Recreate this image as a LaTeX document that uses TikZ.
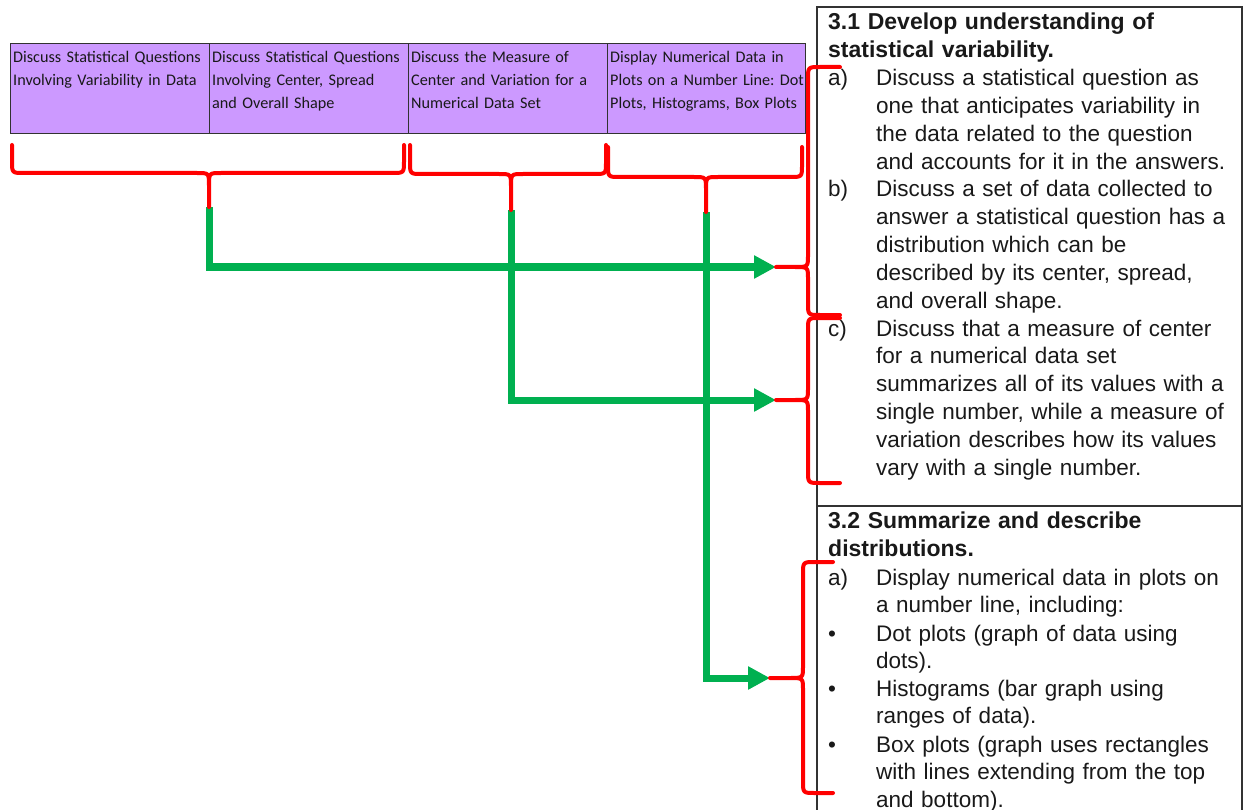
\documentclass[tikz,border=0pt]{standalone}
\usepackage{fontspec}
\setmainfont{Liberation Sans}
\newfontfamily\calib{Carlito}
\usetikzlibrary{arrows.meta}
\definecolor{purp}{RGB}{204,153,255}
\definecolor{grn}{RGB}{0,176,80}
\definecolor{rd}{RGB}{255,0,0}
\definecolor{ink}{RGB}{25,25,25}
\definecolor{frame}{RGB}{50,50,50}
\frenchspacing
% horizontal brace pointing down: x1 x2 ytop yh xm ytip name
\newcommand{\bracedown}[7]{%
  \draw[bracestyle] (#1,#3) -- (#1,#4-12) .. controls (#1,#4) .. (#1+12,#4) -- (#5-12,#4) .. controls (#5,#4) .. (#5,#4+13) -- (#5,#6)
     -- (#5,#4+13) .. controls (#5,#4) .. (#5+12,#4) -- (#2-12,#4) .. controls (#2,#4) .. (#2,#4-12) -- (#2,#3);
  \coordinate (#7) at (#5,#6);
}
% vertical brace pointing left: xe xv yt yb ym xt name
\newcommand{\braceleft}[7]{%
  \draw[bracestyle] (#1,#3) -- (#2+12,#3) .. controls (#2,#3) .. (#2,#3+12) -- (#2,#5-12) .. controls (#2,#5) .. (#2-13,#5) -- (#6,#5)
     -- (#2-13,#5) .. controls (#2,#5) .. (#2,#5+12) -- (#2,#4-12) .. controls (#2,#4) .. (#2+12,#4) -- (#1,#4);
  \coordinate (#7) at (#6,#5);
}
\begin{document}
\begin{tikzpicture}[x=1pt,y=-1pt,
  bracestyle/.style={draw=rd, line width=4pt, line join=round, line cap=round},
  arrowline/.style={draw=grn, line width=7pt, line join=miter, -{Triangle[length=22pt,width=22pt]}},
  cell/.style={draw=frame, line width=1.2pt, fill=purp, anchor=north west, inner sep=0pt, minimum width=199pt, minimum height=90pt},
  celltext/.style={anchor=base west, inner sep=0pt, text width=260pt, align=left, font=\calib\fontsize{16.2}{23}\selectfont, text=ink},
  body/.style={anchor=base west, inner sep=0pt, text width=370pt, align=left, font=\fontsize{22.5}{27.8}\selectfont, text=ink},
  head/.style={anchor=base west, inner sep=0pt, text width=410pt, align=left, font=\bfseries\fontsize{23}{28}\selectfont, text=ink},
  lab/.style={anchor=base west, inner sep=0pt, font=\fontsize{22.5}{27.8}\selectfont, text=ink},
  boxline/.style={draw=frame, line width=1.5pt}]
\useasboundingbox (0,0) rectangle (1244,810);

% table of topics
\node[cell] (c1) at (10,43) {};
\node[cell] (c2) at (209,43) {};
\node[cell] (c3) at (408,43) {};
\node[cell, minimum width=198pt] (c4) at (607,43) {};
\node[celltext] (t1) at (13,63) {Discuss Statistical Questions\\Involving Variability in Data};
\node[celltext] (t2) at (212,63) {Discuss Statistical Questions\\Involving Center, Spread\\and Overall Shape};
\node[celltext] (t3) at (411,63) {Discuss the Measure of\\Center and Variation for a\\Numerical Data Set};
\node[celltext] (t4) at (610,63) {Display Numerical Data in\\Plots on a Number Line: Dot\\Plots, Histograms, Box Plots};

% standards box
\draw[boxline] (817,810) -- (817,7) -- (1242,7) -- (1242,810);
\draw[boxline] (817,506) -- (1242,506);

\node[head] (h1) at (828,30) {3.1 Develop understanding of\\statistical variability.};
\node[lab] (la) at (828,86) {a)};
\node[body] (ta) at (876,86) {Discuss a statistical question as\\one that anticipates variability in\\the data related to the question\\and accounts for it in the answers.};
\node[lab] (lb) at (828,197) {b)};
\node[body] (tb) at (876,197) {Discuss a set of data collected to\\answer a statistical question has a\\distribution which can be\\described by its center, spread,\\and overall shape.};
\node[lab] (lc) at (828,336) {c)};
\node[body] (tc) at (876,336) {Discuss that a measure of center\\for a numerical data set\\summarizes all of its values with a\\single number, while a measure of\\variation describes how its values\\vary with a single number.};

\node[head] (h2) at (828,528) {3.2 Summarize and describe\\distributions.};
\node[lab] (ld) at (828,585) {a)};
\node[body] (td) at (876,585) {Display numerical data in plots on\\a number line, including:};
\node[lab] (b1) at (828,641) {\textbullet};
\node[body] (te) at (876,641) {Dot plots (graph of data using\\dots).};
\node[lab] (b2) at (828,696) {\textbullet};
\node[body] (tf) at (876,696) {Histograms (bar graph using\\ranges of data).};
\node[lab] (b3) at (828,752) {\textbullet};
\node[body] (tg) at (876,752) {Box plots (graph uses rectangles\\with lines extending from the top\\and bottom).};

% brace tip coordinates
\coordinate (p1) at (209,207);
\coordinate (p2) at (511,210);
\coordinate (p3) at (706,212);
\coordinate (qA) at (776,267);
\coordinate (qB) at (776,400);
\coordinate (qC) at (770,678);

% green connectors
\draw[arrowline] (p1) |- (qA);
\draw[arrowline] (p2) |- (qB);
\draw[arrowline] (p3) |- (qC);

% red braces
\bracedown{12}{404}{145}{173}{209}{207}{bt1}
\bracedown{410}{606}{145}{174}{511}{210}{bt2}
\bracedown{608}{802}{147}{177}{706}{212}{bt3}
\braceleft{840}{808}{67}{315}{267}{776}{bA}
\braceleft{840}{808}{318}{483}{400}{776}{bB}
\braceleft{833}{803}{562}{793}{678}{770}{bC}
\end{tikzpicture}
\end{document}
